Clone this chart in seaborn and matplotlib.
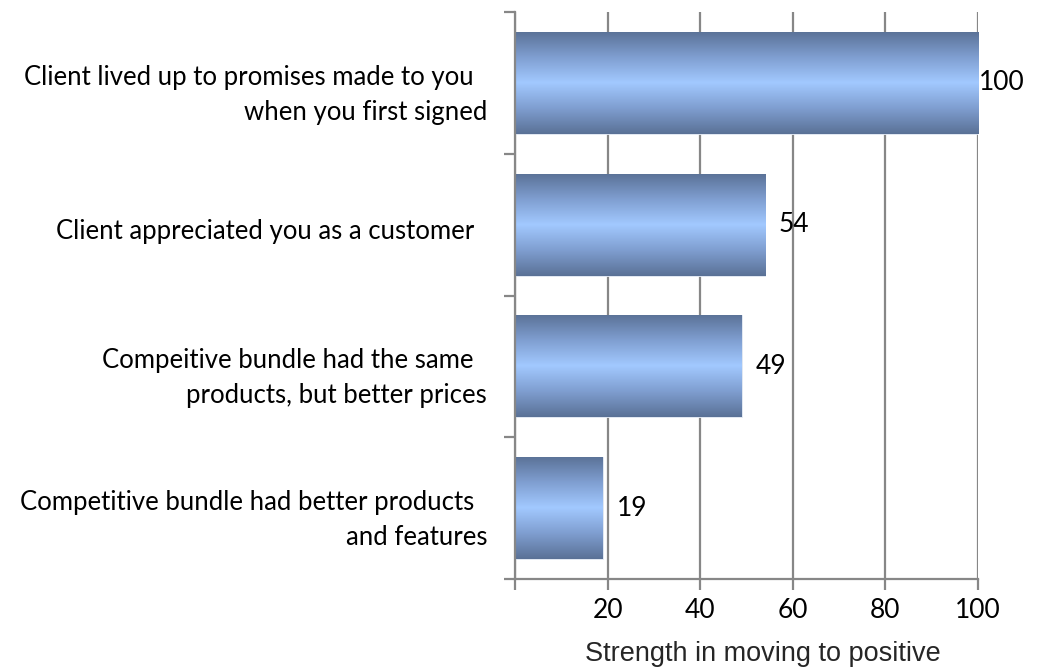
import numpy as np
import pandas as pd
import matplotlib
matplotlib.use("Agg")
import matplotlib.pyplot as plt
from matplotlib.colors import LinearSegmentedColormap
import seaborn as sns

# data
categories = [
    "Client lived up to promises made to you  \nwhen you first signed",
    "Client appreciated you as a customer  ",
    "Compeitive bundle had the same  \nproducts, but better prices",
    "Competitive bundle had better products  \nand features",
]
values = [100, 54, 49, 19]
xticks = [0, 20, 40, 60, 80, 100]
xtick_labels = ["", "20", "40", "60", "80", "100"]
xlabel = "Strength in moving to positive"

sns.set_style("white")
plt.rcParams["font.family"] = ["Lato", "DejaVu Sans"]
plt.rcParams["text.color"] = "black"
plt.rcParams["xtick.color"] = "black"
plt.rcParams["ytick.color"] = "black"

df = pd.DataFrame({"category": categories, "value": values})

fig = plt.figure(figsize=(10.4, 6.71), dpi=100)
ax = fig.add_axes([0.4952, 0.1371, 0.4452, 0.845])

sns.barplot(data=df, x="value", y="category", orient="h", width=0.72,
            color="#7f9fd0", ax=ax, zorder=2)

# vertical shading on each bar, dark at the edges and light in the middle
shade = LinearSegmentedColormap.from_list(
    "bar", ["#5a7196", "#7f9ed0", "#a2c9ff", "#7f9ed0", "#5a7196"])
grad = np.linspace(0, 1, 256).reshape(-1, 1)
for patch in ax.patches:
    x0, y0 = patch.get_x(), patch.get_y()
    w, h = patch.get_width(), patch.get_height()
    im = ax.imshow(grad, cmap=shade, aspect="auto", zorder=2.5,
                   extent=[x0, x0 + w, y0 + h, y0], interpolation="bicubic")
    im.set_clip_path(patch)
    patch.set_edgecolor("#e6ecf5")
    patch.set_linewidth(0.6)

ax.set_xlim(0, 100)
ax.set_ylim(len(categories) - 0.5, -0.5)

for i, v in enumerate(values):
    ax.text(min(v + 3, 100.2), i, str(v), va="center", ha="left",
            fontsize=19, color="black", zorder=4)

ax.set_xticks(xticks)
ax.set_xticklabels(xtick_labels, fontsize=19)
ax.xaxis.grid(True, color="#878787", linewidth=1.6, zorder=0)
ax.set_axisbelow(True)

ax.set_yticks(np.arange(len(categories)) + 0.03)
ax.set_yticklabels(categories, fontsize=18.5, linespacing=1.5)
ax.set_yticks(np.arange(-0.5, len(categories)), minor=True)
ax.tick_params(axis="both", which="both", left=True, bottom=True)
ax.tick_params(axis="y", which="major", length=0, pad=20)
ax.tick_params(axis="y", which="minor", length=8, width=1.6, color="#878787")
ax.tick_params(axis="x", which="major", length=8, width=1.6, color="#878787",
               pad=6, labelcolor="black")

ax.set_ylabel("")
ax.set_xlabel(xlabel, fontsize=19.5, family=["Liberation Sans"])
ax.xaxis.set_label_coords(0.536, -0.11)

for side in ["top", "right"]:
    ax.spines[side].set_visible(False)
for side in ["left", "bottom"]:
    ax.spines[side].set_color("#878787")
    ax.spines[side].set_linewidth(1.6)
    ax.spines[side].set_zorder(3)

fig.savefig("out.png", dpi=100)
